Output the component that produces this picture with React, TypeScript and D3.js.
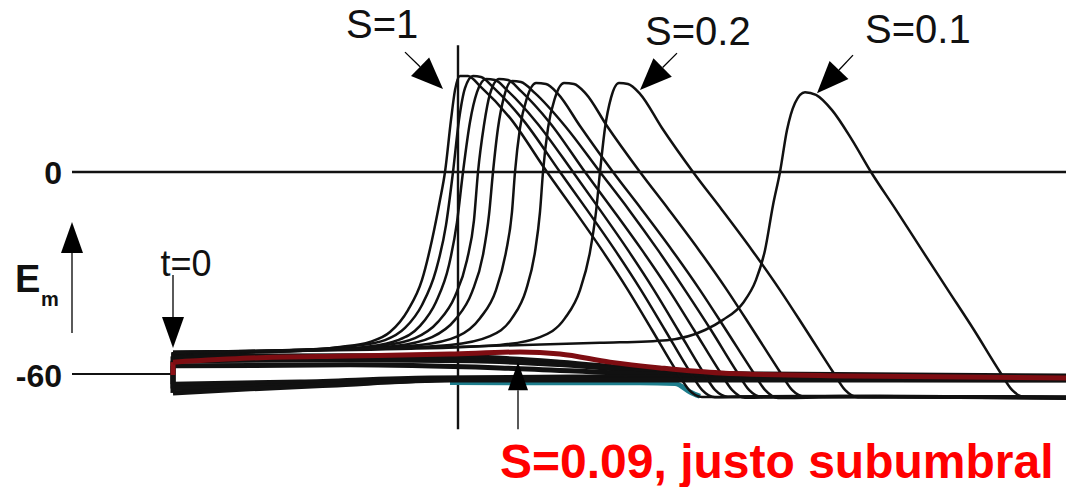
import React from "react";
import * as d3 from "d3";

// time in ms (t=0 = stimulus), membrane potential in mV
type Pt = [number, number];

const apS1: Pt[] = [[0, -53.5], [1.07, -52.9], [1.67, -51.7], [1.97, -50.2], [2.17, -47.3], [2.35, -40.8], [2.49, -31.9], [2.59, -20.1], [2.67, -8.3], [2.72, 0], [2.78, 15.4], [2.82, 24.2], [2.87, 28.4], [2.95, 28.4], [3.07, 25.4], [3.37, 16.0], [3.74, 0], [4.01, -11.2], [4.29, -23.1], [4.55, -34.9], [4.79, -46.7], [5.04, -59.1], [5.16, -64.4], [5.29, -66.5], [5.87, -66.3], [8.93, -66.6]];
const apB: Pt[] = [[0, -53.2], [1.17, -52.6], [1.82, -51.4], [2.12, -49.7], [2.32, -46.1], [2.49, -39.3], [2.63, -29.0], [2.73, -15.7], [2.80, 0], [2.86, 15.4], [2.92, 24.8], [3.00, 28.4], [3.08, 28.1], [3.21, 24.8], [3.50, 15.4], [3.87, 0], [4.14, -11.2], [4.42, -23.1], [4.68, -34.9], [4.92, -46.7], [5.17, -59.1], [5.29, -64.4], [5.42, -66.6], [6.07, -66.4], [8.93, -66.8]];
const apC: Pt[] = [[0, -53.8], [1.27, -52.9], [1.92, -51.7], [2.25, -49.7], [2.47, -45.5], [2.63, -38.4], [2.76, -27.5], [2.84, -14.8], [2.90, 0], [2.97, 14.8], [3.04, 23.6], [3.13, 27.5], [3.22, 27.2], [3.35, 23.9], [3.64, 14.5], [4.00, 0], [4.27, -11.2], [4.55, -23.1], [4.81, -34.9], [5.05, -46.7], [5.30, -59.1], [5.42, -64.4], [5.55, -66.4], [6.27, -66.2], [8.93, -66.4]];
const apD: Pt[] = [[0, -53.5], [1.37, -52.6], [2.07, -51.4], [2.42, -49.1], [2.65, -44.3], [2.82, -36.7], [2.94, -26.0], [3.01, -14.2], [3.05, 0], [3.11, 13.9], [3.17, 23.1], [3.26, 27.5], [3.35, 27.2], [3.48, 23.9], [3.77, 14.5], [4.12, 0], [4.40, -11.2], [4.69, -23.1], [4.96, -34.9], [5.21, -46.7], [5.47, -59.1], [5.59, -64.4], [5.72, -66.7], [6.47, -66.4], [8.93, -66.9]];
const apE: Pt[] = [[0, -53.5], [1.47, -52.6], [2.22, -51.4], [2.59, -48.8], [2.82, -43.7], [2.99, -35.5], [3.10, -24.5], [3.16, -12.7], [3.20, 0], [3.25, 13.0], [3.31, 22.2], [3.39, 26.9], [3.48, 26.6], [3.62, 23.3], [3.92, 13.6], [4.27, 0], [4.56, -11.2], [4.85, -23.1], [5.12, -34.9], [5.38, -46.7], [5.64, -59.1], [5.76, -64.4], [5.89, -66.5], [6.67, -66.2], [8.93, -66.5]];
const apF: Pt[] = [[0, -53.2], [1.67, -52.3], [2.47, -51.1], [2.85, -48.5], [3.07, -43.2], [3.23, -34.9], [3.33, -23.6], [3.39, -11.8], [3.42, 0], [3.47, 13.0], [3.54, 21.9], [3.63, 26.3], [3.73, 26.0], [3.85, 23.1], [4.07, 13.6], [4.40, 0], [4.69, -11.2], [4.99, -23.1], [5.27, -34.9], [5.53, -46.7], [5.80, -59.1], [5.92, -64.4], [6.05, -66.8], [6.87, -66.5], [8.93, -67.0]];
const apG: Pt[] = [[0, -53.2], [1.87, -52.3], [2.77, -51.1], [3.17, -48.5], [3.39, -43.2], [3.53, -34.9], [3.62, -23.6], [3.67, -11.8], [3.70, 0], [3.75, 13.0], [3.82, 21.9], [3.91, 26.3], [4.01, 26.0], [4.13, 23.1], [4.34, 13.6], [4.67, 0], [4.96, -11.2], [5.26, -23.1], [5.54, -34.9], [5.80, -46.7], [6.07, -59.1], [6.19, -64.4], [6.32, -66.4], [7.07, -66.2], [8.93, -66.4]];
const apS02: Pt[] = [[0, -53.2], [2.27, -52.3], [3.27, -51.1], [3.67, -48.8], [3.92, -43.2], [4.07, -34.9], [4.17, -23.6], [4.23, -11.8], [4.27, 0], [4.32, 13.0], [4.38, 21.9], [4.46, 26.3], [4.55, 26.0], [4.67, 23.1], [4.89, 13.0], [5.20, 0], [5.49, -11.2], [5.79, -23.1], [6.07, -34.9], [6.33, -46.7], [6.60, -59.1], [6.72, -64.4], [6.85, -66.6], [7.57, -66.3], [8.93, -66.7]];
const apS01: Pt[] = [[0, -53.5], [1.27, -52.6], [2.77, -51.7], [4.27, -50.5], [4.94, -49.7], [5.32, -46.7], [5.50, -43.7], [5.70, -38.7], [5.83, -31.9], [5.92, -23.1], [6.00, -9.8], [6.07, 0], [6.14, 12.4], [6.22, 20.4], [6.32, 23.6], [6.43, 22.8], [6.59, 18.3], [6.79, 9.5], [6.98, 0], [7.23, -11.2], [7.49, -23.1], [7.75, -34.9], [8.01, -46.7], [8.27, -59.1], [8.39, -64.4], [8.52, -66.5], [8.93, -66.6]];

const actionPotentials = [apS1, apB, apC, apD, apE, apF, apG, apS02, apS01];

// subthreshold traces
const subA: Pt[] = [[0, -54.5], [1.77, -54.3], [2.97, -54.7], [3.87, -56.2], [4.77, -58.5], [5.77, -59.7], [8.93, -60.3]];
const subE: Pt[] = [[0, -55.8], [1.77, -55.5], [3.0, -55.8], [3.9, -57.0], [4.8, -59.0], [5.8, -60.0], [8.93, -60.6]];
const subB: Pt[] = [[0, -57.3], [1.77, -57.0], [3.27, -57.9], [4.77, -59.7], [8.93, -61.2]];
const subC: Pt[] = [[0, -62.7], [1.27, -62.1], [2.57, -60.9], [4.27, -60.6], [8.93, -61.2]];
const subF: Pt[] = [[0, -64.0], [1.0, -63.3], [2.0, -62.2], [3.0, -61.2], [8.93, -61.4]];
const subD: Pt[] = [[0, -65.3], [0.77, -64.1], [1.57, -63.0], [2.77, -61.5], [8.93, -61.5]];
const subTeal: Pt[] = [[2.77, -62.2], [3.87, -62.3], [4.67, -62.3], [5.02, -62.5], [5.17, -65.0], [5.27, -66.3]];
const subS009: Pt[] = [[0, -56.2], [0.77, -55.0], [1.77, -54.4], [2.77, -53.8], [3.47, -53.2], [3.87, -53.8], [4.37, -56.2], [4.87, -57.9], [5.47, -59.4], [6.77, -60.3], [8.93, -60.9]];

const tStart = -1.01;
const tEnd = 8.93;
const cursorT = 2.85;
const cursorRange: Pt = [37.5, -76];
const yTicks = [0, -60];

export default function App() {
  const width = 1066;
  const height = 487;
  const x = d3.scaleLinear().domain([0, 8.93]).range([173, 1066]);
  const y = d3.scaleLinear().domain([-60, 0]).range([375, 172]);
  const line = d3
    .line<Pt>()
    .x((d) => x(d[0]))
    .y((d) => y(d[1]))
    .curve(d3.curveMonotoneX);
  const jump = (d: Pt[]) => `M${x(0)},${y(-60)}L${x(d[0][0])},${y(d[0][1])}`;

  const font = "'Liberation Sans', Arial, sans-serif";

  // arrow: tip in px (from scales), start offset in px
  const arrow = (tx: number, ty: number, dx: number, dy: number, len: number, w: number, key: string) => {
    const ang = Math.atan2(-dy, -dx);
    const bx = tx - Math.cos(ang) * len;
    const by = ty - Math.sin(ang) * len;
    const nx = -Math.sin(ang) * (w / 2);
    const ny = Math.cos(ang) * (w / 2);
    return (
      <g key={key}>
        <line x1={tx + dx} y1={ty + dy} x2={bx} y2={by} stroke="#000" strokeWidth={1.3} />
        <polygon points={`${tx},${ty} ${bx + nx},${by + ny} ${bx - nx},${by - ny}`} fill="#000" />
      </g>
    );
  };

  return (
    <svg
      width={width}
      height={height}
      style={{ position: "absolute", left: 0, top: 0, background: "#fff" }}
    >
      <rect width={width} height={height} fill="#fff" />

      {/* reference lines */}
      <line x1={x(tStart)} x2={x(tEnd)} y1={y(0)} y2={y(0)} stroke="#111" strokeWidth={2.6} />
      <line x1={x(tStart)} x2={x(0)} y1={y(-60) - 1} y2={y(-60) - 1} stroke="#111" strokeWidth={2} />
      <line x1={x(cursorT)} x2={x(cursorT)} y1={y(cursorRange[0])} y2={y(cursorRange[1])} stroke="#111" strokeWidth={2.4} />

      {/* subthreshold bundle */}
      <path d={line(subTeal) || ""} fill="none" stroke="#1d7d8c" strokeWidth={5} />
      {[subA, subE, subB, subC, subF, subD].map((d, i) => (
        <g key={"s" + i}>
          <path d={jump(d)} stroke="#111" strokeWidth={5} />
          <path d={line(d) || ""} fill="none" stroke="#111" strokeWidth={5} />
        </g>
      ))}

      {/* action potentials */}
      {actionPotentials.map((d, i) => (
        <g key={"ap" + i}>
          <path d={jump(d)} stroke="#111" strokeWidth={2.5} />
          <path d={line(d) || ""} fill="none" stroke="#111" strokeWidth={2.5} strokeLinejoin="round" />
        </g>
      ))}

      <path d={jump(subS009)} stroke="#8c1016" strokeWidth={5} />
      <path d={line(subS009) || ""} fill="none" stroke="#7e0d12" strokeWidth={5} />

      {/* axis labels */}
      {yTicks.map((v) => (
        <text key={v} x={62} y={y(v) + 12} textAnchor="end" fontFamily={font} fontWeight="bold" fontSize={32} fill="#111">
          {v === 0 ? "0" : "-60"}
        </text>
      ))}
      <text x={15} y={292} fontFamily={font} fontWeight="bold" fontSize={38} fill="#111">E</text>
      <text x={41} y={306} fontFamily={font} fontWeight="bold" fontSize={20} fill="#111">m</text>
      {arrow(x(tStart), y(-14.8), 0, 111, 31, 22, "em")}

      <text x={x(0) + 13} y={276} textAnchor="middle" fontFamily={font} fontSize={36} fill="#111">t=0</text>
      {arrow(x(0), y(-52.0), 0, -73, 31, 22, "t0")}

      <text x={346} y={38} fontFamily={font} fontSize={40} fill="#111">S=1</text>
      {arrow(x(2.7), y(24.5), -38, -37, 32, 26, "s1")}
      <text x={645} y={45} fontFamily={font} fontSize={40} fill="#111">S=0.2</text>
      {arrow(x(4.67), y(24.2), 37, -37, 32, 26, "s02")}
      <text x={865} y={43} fontFamily={font} fontSize={40} fill="#111">S=0.1</text>
      {arrow(x(6.44), y(23.3), 36, -38, 32, 26, "s01")}

      {arrow(x(3.45), y(-56.2), 0, 67, 28, 20, "s009")}
      <text x={500} y={478} fontFamily={font} fontWeight="bold" fontSize={48} fill="#ff0000">
        S=0.09, justo subumbral
      </text>
    </svg>
  );
}
